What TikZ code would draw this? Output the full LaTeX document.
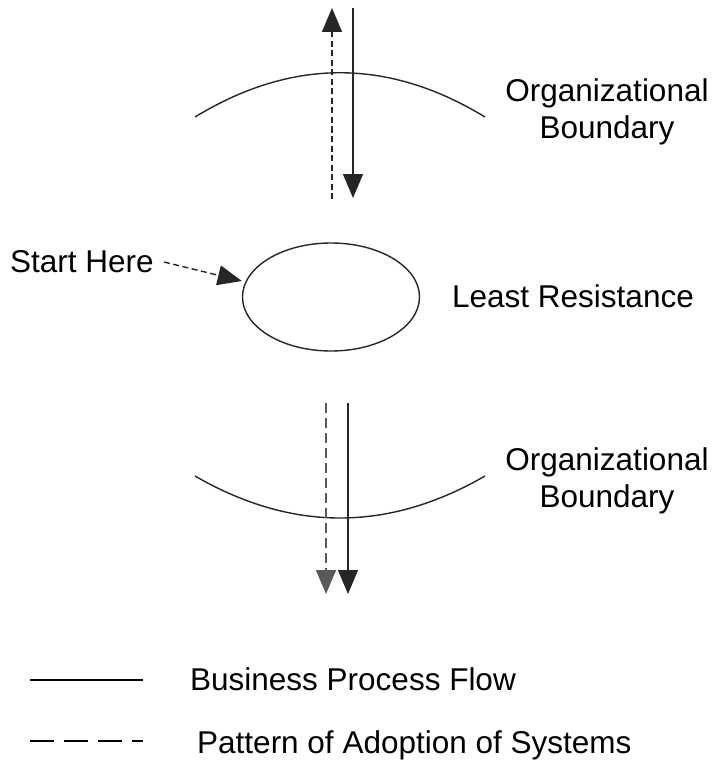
\documentclass[tikz,border=0pt]{standalone}
\usepackage{fontspec}
\setmainfont{Liberation Sans}
\usetikzlibrary{arrows.meta,shapes.geometric}
\begin{document}
\begin{tikzpicture}[x=1pt,y=-1pt,
  lbl/.style={font=\fontsize{31.5}{37}\selectfont, align=center, inner sep=0pt},
  thin line/.style={line width=1.4pt, black!85},
  tip/.style={-{Triangle[length=24pt,width=20pt]}},
  dashA/.style={dash pattern=on 6pt off 3.5pt},
  dashB/.style={dash pattern=on 10pt off 5pt, black!65}]
\useasboundingbox (0,0) rectangle (714,765);
% top boundary
\coordinate (tl) at (195,117); \coordinate (tr) at (485,117);
\draw[thin line] (tl) .. controls (292,58) and (388,58) .. (tr);
\coordinate (tdS) at (332,199); \coordinate (tdE) at (332,8);
\coordinate (tsS) at (353,8); \coordinate (tsE) at (353,198);
\draw[thin line, dashA, tip] (tdS) -- (tdE);
\draw[thin line, tip] (tsS) -- (tsE);
\node[lbl] (ob1) at (607,112) {Organizational\\Boundary};
% ellipse
\node[ellipse, draw, thin line, minimum width=177pt, minimum height=108pt, inner sep=0pt] (lr) at (331,297) {};
\node[lbl, anchor=west] (lrt) at (452,296) {Least Resistance};
\node[lbl, anchor=west] (sh) at (10,262) {Start Here};
\draw[thin line, dashA, tip] (sh.east) ++(10,0) coordinate (shs) -- (lr.west |- 0,281) coordinate (she);
% bottom boundary
\coordinate (bl) at (195,476); \coordinate (br) at (485,476);
\draw[thin line] (bl) .. controls (292,532) and (388,532) .. (br);
\coordinate (bdS) at (326,403); \coordinate (bdE) at (326,594);
\coordinate (bsS) at (348,403); \coordinate (bsE) at (348,594);
\draw[thin line, dashB, tip] (bdS) -- (bdE);
\draw[thin line, tip] (bsS) -- (bsE);
\node[lbl] (ob2) at (607,481) {Organizational\\Boundary};
% legend
\coordinate (l1a) at (30,680); \coordinate (l1b) at (143,680);
\coordinate (l2a) at (30,741); \coordinate (l2b) at (143,741);
\draw[line width=2.6pt] (l1a) -- (l1b);
\draw[line width=2.6pt, dash pattern=on 24pt off 10pt] (l2a) -- (l2b);
\node[lbl, anchor=west] (k1) at (190,679) {Business Process Flow};
\node[lbl, anchor=west] (k2) at (197,745) {Pattern of Adoption of Systems};
\end{tikzpicture}
\end{document}
